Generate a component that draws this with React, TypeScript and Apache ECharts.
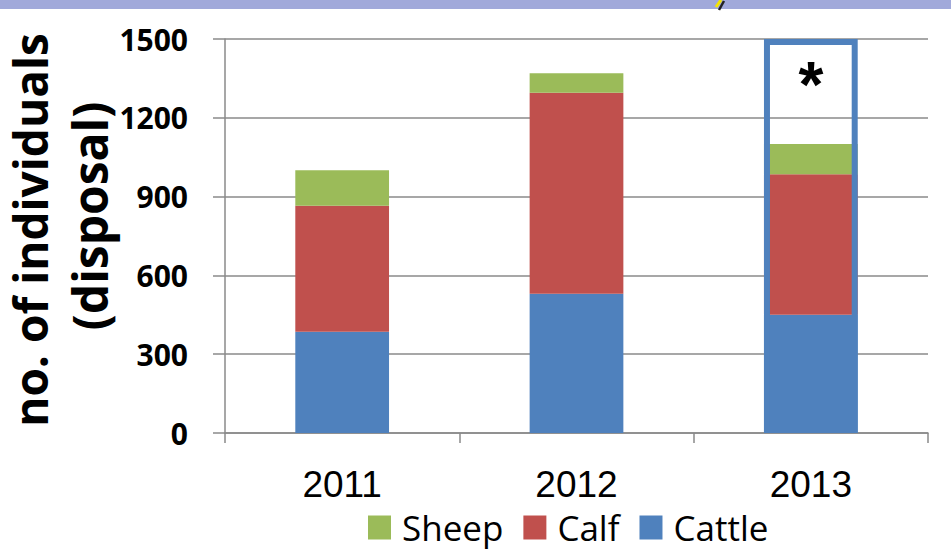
import React, { useEffect, useRef } from "react";
import * as echarts from "echarts";

const years = ["2011", "2012", "2013"];
const cattle = [385, 530, 450];
const calf = [480, 765, 535];
const sheep = [135, 75, 115];
const highlight = ["-", "-", 1500];
const yTicks = { min: 0, max: 1500, interval: 300 };
const legendNames = ["Sheep", "Calf", "Cattle"];

const BLUE = "#4F81BD";
const RED = "#C0504D";
const GREEN = "#9BBB59";
const GRID = "#8A8A8A";

export default function App() {
  const ref = useRef<HTMLDivElement>(null);
  useEffect(() => {
    if (!ref.current) return;
    const chart = echarts.init(ref.current, undefined, { renderer: "svg" });
    const barBase = {
      type: "bar",
      stack: "total",
      barWidth: "40%",
      barGap: "-100%",
    };
    chart.setOption({
      animation: false,
      backgroundColor: "#ffffff",
      grid: { left: 225, right: 23, top: 39, bottom: 119, containLabel: false },
      legend: {
        data: legendNames,
        left: 363,
        top: 505,
        itemWidth: 23,
        itemHeight: 24,
        itemGap: 20,
        icon: "rect",
        textStyle: {
          fontFamily: "Open Sans",
          fontSize: 35,
          color: "#000",
          padding: [0, 0, 0, 6],
        },
      },
      xAxis: {
        type: "category",
        data: years,
        axisLine: { show: true, lineStyle: { color: GRID, width: 1.5 } },
        axisTick: { show: true, length: 10, interval: 0, lineStyle: { color: GRID, width: 1.5 } },
        axisLabel: {
          fontFamily: "Liberation Sans",
          fontSize: 37,
          color: "#000",
          margin: 33,
        },
      },
      yAxis: {
        type: "value",
        min: yTicks.min,
        max: yTicks.max,
        interval: yTicks.interval,
        axisLine: { show: true, lineStyle: { color: GRID, width: 1.5 } },
        axisTick: { show: true, length: 12, lineStyle: { color: GRID, width: 1.5 } },
        splitLine: { show: true, lineStyle: { color: GRID, width: 1.5 } },
        axisLabel: {
          fontFamily: "Open Sans",
          fontWeight: "bold",
          fontSize: 30,
          color: "#000",
          margin: 37,
          formatter: (v: number) => String(v),
        },
      },
      series: [
        { ...barBase, name: "Cattle", data: cattle, itemStyle: { color: BLUE } },
        { ...barBase, name: "Calf", data: calf, itemStyle: { color: RED } },
        { ...barBase, name: "Sheep", data: sheep, itemStyle: { color: GREEN } },
        {
          type: "bar",
          name: "highlight",
          barWidth: "40%",
          barGap: "-100%",
          z: 5,
          data: highlight,
          itemStyle: { color: "rgba(0,0,0,0)", borderColor: BLUE, borderWidth: 6 },
          label: {
            show: true,
            position: "insideTop",
            distance: 14,
            formatter: "*",
            fontFamily: "Liberation Sans",
            fontWeight: "bold",
            fontSize: 64,
            color: "#000",
          },
        },
      ],
      graphic: [
        { type: "rect", left: 0, top: 0, shape: { width: 951, height: 9 }, style: { fill: "#A1A9DA" } },
        { type: "line", shape: { x1: 721, y1: 0, x2: 716, y2: 7 }, style: { stroke: "#F5E400", lineWidth: 3 } },
        { type: "line", shape: { x1: 724, y1: 1, x2: 719, y2: 10 }, style: { stroke: "#222", lineWidth: 2.5 } },
        {
          type: "text",
          x: 30,
          y: 230,
          rotation: Math.PI / 2,
          style: {
            text: "no. of individuals",
            fontFamily: "Open Sans",
            fontWeight: "bold",
            fontSize: 46,
            fill: "#000",
            textAlign: "center",
            textVerticalAlign: "middle",
          },
        },
        {
          type: "text",
          x: 89,
          y: 216,
          rotation: Math.PI / 2,
          style: {
            text: "(disposal)",
            fontFamily: "Open Sans",
            fontWeight: "bold",
            fontSize: 48,
            fill: "#000",
            textAlign: "center",
            textVerticalAlign: "middle",
          },
        },
      ],
    });
    return () => chart.dispose();
  }, []);
  return (
    <div
      ref={ref}
      style={{ position: "fixed", left: 0, top: 0, width: 951, height: 552 }}
    />
  );
}
